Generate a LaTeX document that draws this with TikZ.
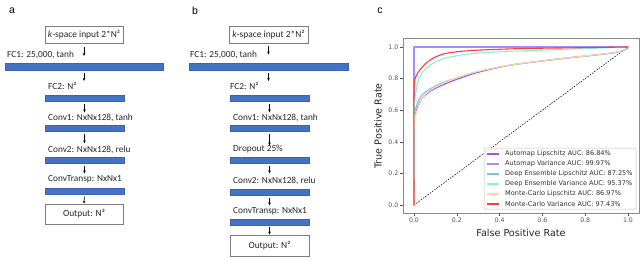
\documentclass[tikz,border=0pt]{standalone}
\usepackage{fontspec}
\setmainfont{Carlito}
\newfontfamily\plotfont{DejaVu Sans}
\newfontfamily\panfont{Liberation Sans}
\usetikzlibrary{arrows.meta}
\definecolor{barblue}{HTML}{4472C4}
\definecolor{barline}{HTML}{3A64B0}
\definecolor{boxline}{HTML}{7F7F7F}
\definecolor{cAL}{HTML}{9B4DFF}
\definecolor{cAV}{HTML}{A58CFF}
\definecolor{cDL}{HTML}{7CC4F0}
\definecolor{cDV}{HTML}{8CF2CC}
\definecolor{cML}{HTML}{FFD49E}
\definecolor{cMV}{HTML}{FF3B3B}
\definecolor{axgray}{HTML}{8A8A8A}
\definecolor{tickgray}{HTML}{555555}
\tikzset{
  bar/.style={rectangle, inner sep=0pt, fill=barblue, draw=barline, line width=0.3pt, minimum height=6.5pt},
  iobox/.style={rectangle, inner sep=0pt, draw=boxline, line width=0.8pt, fill=white, font=\fontsize{9.4}{11}\selectfont, text=black!85},
  lab/.style={anchor=west, inner sep=0pt, font=\fontsize{9.3}{11}\selectfont, text=black!85},
  arr/.style={-{Stealth[length=3pt,width=2.6pt]}, line width=0.6pt, black, shorten <=3pt},
  panlab/.style={inner sep=0pt, font=\panfont\fontsize{10.5}{12}\selectfont},
  tick/.style={inner sep=0pt, font=\plotfont\fontsize{6.2}{7}\selectfont, text=tickgray},
  leg/.style={anchor=west, inner sep=0pt, font=\plotfont\fontsize{6.55}{7}\selectfont, text=black!80},
  axlab/.style={inner sep=0pt, font=\plotfont\fontsize{9.6}{10}\selectfont, text=black!85},
  curve/.style={line width=1.1pt, line join=round, line cap=round}
}
\begin{document}
\begin{tikzpicture}[x=1pt,y=-1pt]
\useasboundingbox (0,0) rectangle (640,260);
% ---------- panel a ----------
\node[panlab] (pa) at (12,11) {a};
\node[iobox, minimum width=78pt, minimum height=17pt] (ain) at (84,35) {\textit{k}-space input 2*N²};
\node[lab] (la1) at (7,55) {FC1: 25,000, tanh};
\node[bar, minimum width=158pt] (a1) at (84,66.5) {};
\node[lab] (la2) at (48,86) {FC2: N²};
\node[bar, minimum width=79pt] (a2) at (84.5,98) {};
\node[lab] (la3) at (48,118) {Conv1: NxNx128, tanh};
\node[bar, minimum width=79pt] (a3) at (84.5,128) {};
\node[lab] (la4) at (48,150) {Conv2: NxNx128, relu};
\node[bar, minimum width=79pt] (a4) at (84.5,160) {};
\node[lab] (la5) at (48,179) {ConvTransp: NxNx1};
\node[bar, minimum width=79pt] (a5) at (84.5,191) {};
\node[iobox, minimum width=78pt, minimum height=20pt] (aout) at (84,214) {Output: N²};
\draw[arr] (ain.south) -- ++(0,12);
\draw[arr] (a1.south) -- ++(0,11);
\draw[arr] (a2.south) -- ++(0,11);
\draw[arr] (a3.south) -- ++(0,12);
\draw[arr] (a4.south) -- ++(0,10);
\draw[arr, shorten <=2pt] (a5.south) -- (aout.north);
% ---------- panel b ----------
\node[panlab] (pb) at (195,11) {b};
\node[iobox, minimum width=79pt, minimum height=17pt] (bin) at (268.5,34.5) {\textit{k}-space input 2*N²};
\node[lab] (lb1) at (190,55) {FC1: 25,000, tanh};
\node[bar, minimum width=159pt] (b1) at (268.5,66.5) {};
\node[lab] (lb2) at (230,86) {FC2: N²};
\node[bar, minimum width=79pt] (b2) at (269.5,98) {};
\node[lab] (lb3) at (233,118) {Conv1: NxNx128, tanh};
\node[bar, minimum width=79pt] (b3) at (269.5,128) {};
\node[lab] (lb4) at (233,149) {Dropout 25\%};
\node[bar, minimum width=79pt] (b4) at (269.5,160) {};
\node[lab] (lb5) at (233,181) {Conv2: NxNx128, relu};
\node[bar, minimum width=79pt] (b5) at (269.5,192) {};
\node[lab] (lb6) at (233,211) {ConvTransp: NxNx1};
\node[bar, minimum width=79pt] (b6) at (269.5,222) {};
\node[iobox, minimum width=79pt, minimum height=21pt] (bout) at (269.5,245.5) {Output: N²};
\draw[arr] (bin.south) -- ++(0,11);
\draw[arr] (b1.south) -- ++(0,11);
\draw[arr] (b2.south) -- ++(0,11);
\draw[arr] (b3.south) -- ++(0,14);
\draw[arr] (b4.south) -- ++(0,10);
\draw[arr] (b5.south) -- ++(0,10);
\draw[arr, shorten <=2pt] (b6.south) -- (bout.north);
% ---------- panel c ----------
\node[panlab] (pc) at (380,11) {c};
\begin{scope}[shift={(414,205)}, x=214pt, y=158pt]
  \clip (-0.05,-0.05) rectangle (1.05,1.05);
  \draw[black, line width=0.5pt, dash pattern=on 1.6pt off 1.2pt] (0,0) -- (1,1);
  \draw[curve, cAL] plot[smooth, tension=0.5] coordinates {(0,0) (0,0.5) (0.008,0.58) (0.02,0.63) (0.04,0.68) (0.07,0.715) (0.11,0.745) (0.16,0.775) (0.22,0.805) (0.3,0.84) (0.45,0.885) (0.68,0.925) (0.93,0.963) (1,0.99)};
  \draw[curve, cAV] (0,0) -- (0,1) -- (1,1);
  \draw[curve, cDL] plot[smooth, tension=0.5] coordinates {(0,0) (0,0.52) (0.008,0.61) (0.02,0.66) (0.04,0.7) (0.075,0.735) (0.135,0.775) (0.2,0.805) (0.29,0.842) (0.45,0.885) (0.68,0.925) (0.93,0.962) (1,0.99)};
  \draw[curve, cDV] plot[smooth, tension=0.5] coordinates {(0,0) (0,0.6) (0.01,0.72) (0.02,0.79) (0.04,0.84) (0.06,0.87) (0.1,0.905) (0.15,0.93) (0.25,0.955) (0.4,0.97) (0.6,0.98) (0.8,0.99) (1,1)};
  \draw[curve, cML] plot[smooth, tension=0.5] coordinates {(0,0) (0,0.5) (0.01,0.58) (0.025,0.64) (0.045,0.69) (0.075,0.725) (0.135,0.77) (0.2,0.805) (0.29,0.843) (0.45,0.886) (0.68,0.926) (0.93,0.964) (1,0.99)};
  \draw[curve, cMV] plot[smooth, tension=0.5] coordinates {(0,0) (0,0.7) (0.008,0.81) (0.028,0.855) (0.05,0.89) (0.084,0.925) (0.135,0.955) (0.2,0.97) (0.3,0.98) (0.5,0.99) (0.75,0.995) (1,1)};
\end{scope}
% axes frame
\draw[axgray, line width=0.8pt] (403,38.5) rectangle (639,213);
% ticks
\foreach \i/\t in {0/0.0,1/0.2,2/0.4,3/0.6,4/0.8,5/1.0}{
  \draw[tickgray, line width=0.5pt] ({414+42.8*\i},213) -- ++(0,3);
  \node[tick, anchor=north] at ({414+42.8*\i},218) {\t};
  \draw[tickgray, line width=0.5pt] (403,{205-31.6*\i}) -- ++(-3,0);
  \node[tick, anchor=east] at (398.5,{205-31.6*\i}) {\t};
}
\node[axlab] (xl) at (521,233) {False Positive Rate};
\node[axlab, rotate=90] (yl) at (378,126) {True Positive Rate};
% legend
\draw[black!25, line width=0.5pt, fill=white, fill opacity=0.85, rounded corners=1pt] (484,148) rectangle (636,209);
\foreach \c/\t [count=\k from 0] in {cAL/{Automap Lipschitz AUC: 86.84\%},cAV/{Automap Variance AUC: 99.97\%},cDL/{Deep Ensemble Lipschitz AUC: 87.25\%},cDV/{Deep Ensemble Variance AUC: 95.37\%},cML/{Monte-Carlo Lipschitz AUC: 86.97\%},cMV/{Monte-Carlo Variance AUC: 97.43\%}}{
  \draw[\c, line width=1.1pt] (487,{154+10*\k}) -- (499,{154+10*\k});
  \node[leg] at (505,{154+10*\k}) {\t};
}
\end{tikzpicture}
\end{document}
